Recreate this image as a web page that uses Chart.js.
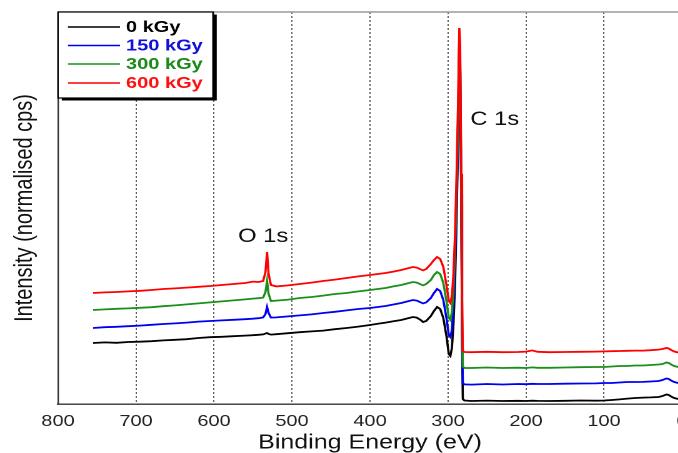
<!DOCTYPE html>
<html>
<head>
<meta charset="utf-8">
<title>XPS survey</title>
<script src="https://cdn.jsdelivr.net/npm/chart.js@4/dist/chart.umd.min.js"></script>
<style>
  html, body { margin: 0; padding: 0; background: #fff; }
  body { width: 678px; height: 453px; overflow: hidden; }
  /* the figure is a little wider than it is drawn, so stretch it sideways */
  #spectrum { transform: scaleX(1.25); transform-origin: 0 0; display: block; }
</style>
</head>
<body>
<canvas id="spectrum" width="560" height="453"></canvas>
<script>
// binding energy (eV), shared by every dose
var energy = [755, 740, 725, 710, 695, 680, 665, 650, 635, 620, 605, 590, 575, 560, 550, 543, 537, 534, 532, 530,
  527, 520, 505, 490, 475, 460, 445, 430, 415, 400, 390, 380, 370, 360, 350, 345, 340, 335, 332, 328,
  322, 318, 314, 310, 306, 302, 299, 297, 295, 293, 291, 289, 287, 285.5, 284.5, 283, 282, 281, 279, 270,
  250, 230, 210, 200, 192, 185, 170, 150, 130, 110, 100, 90, 80, 70, 60, 50, 40, 30, 25, 20,
  17, 14, 10, 5, 0];

// normalised counts, offset per dose
var gy0 = [61, 61.6, 61.2, 62, 62.3, 62.8, 63.6, 64.2, 64.8, 66, 66.8, 67.2, 67.8, 68.4, 68.8, 69.2, 69.6, 70.4, 71, 70,
  69.4, 69.8, 70.8, 71.8, 72.6, 73.4, 74.8, 76, 77.4, 79, 80.2, 81.4, 82.8, 84, 86, 87, 86.4, 84, 82, 83,
  88, 93, 97, 95, 86, 68, 50, 48, 56, 80, 120, 185, 270, 355, 340, 200, 60, 5, 3.5, 3,
  3.4, 3, 3.2, 3, 3.3, 3.1, 3, 3.2, 3.5, 3.3, 3.5, 4, 4.6, 5.4, 6, 6.4, 6.6, 7, 8, 9.5,
  9, 7.5, 6, 5, 4.5];

var gy150 = [76, 76.8, 77.2, 77.8, 78.4, 79.2, 80, 80.6, 81.4, 82.4, 83, 83.6, 84.2, 84.8, 85.3, 85.8, 86.6, 90, 97, 91,
  86.4, 86.6, 87.6, 88.6, 89.6, 91, 92.2, 93.6, 95, 96, 97, 98, 99.5, 101, 103, 104, 103.4, 101.6, 100.6, 101.6,
  106, 111, 115, 113, 104, 86, 69, 67, 74, 98, 138, 200, 280, 362, 345, 210, 75, 21, 19.6, 19.4,
  20, 19.5, 20, 19.8, 20.2, 20, 20, 20.3, 20.5, 20.6, 21, 21, 21.5, 22, 22, 22.1, 22.5, 23, 24, 25.5,
  25, 23.5, 22, 21, 20];

var gy300 = [94, 94.6, 95.2, 95.6, 96.2, 96.8, 97.8, 98.6, 99.6, 100.6, 101.6, 102.6, 103.6, 104.6, 105.4, 105.8, 106.4, 112, 123, 110,
  103, 103.4, 104.4, 106, 107, 108.4, 110, 111, 112.6, 114, 115, 116, 117.6, 119, 121, 122, 121.4, 119.6, 118.6, 120,
  124, 129, 132, 130, 121, 103, 86, 84, 92, 115, 155, 215, 290, 368, 350, 220, 90, 37.5, 36, 36,
  36.5, 36, 36.3, 36, 36.6, 36.2, 36.2, 36.5, 36.8, 37, 37, 37.5, 38, 38, 38.5, 38.5, 39, 39.5, 40, 41.5,
  41, 39.5, 38, 37, 36];

var gy600 = [111, 111.6, 112, 112.6, 113.2, 114, 115, 115.6, 116.4, 117.2, 118, 119, 120, 121, 122.4, 122, 123, 132, 152, 130,
  119, 117.6, 118.6, 120, 121.4, 123, 124.4, 126, 127.6, 129, 130, 131, 132.4, 134, 136, 137, 136.4, 134.6, 133.6, 135,
  140, 144, 147, 145, 137, 119, 103, 101, 108, 130, 170, 230, 305, 376, 360, 230, 105, 53, 52, 51.8,
  52.2, 51.8, 52, 52.4, 53.6, 52.2, 51.8, 52, 52.2, 52.4, 52.6, 52.8, 53, 53.2, 53.4, 53.4, 53.8, 54.4, 55, 56,
  55.5, 54, 52.5, 51.5, 51];

var seriesNames = ["0 kGy", "150 kGy", "300 kGy", "600 kGy"];
var lineColors = ["#000000", "#0000f0", "#1a8f1a", "#ff0000"];
var labelColors = ["#000000", "#1010d8", "#1a8a1a", "#ff1010"];
var energyTicks = [800, 700, 600, 500, 400, 300, 200, 100, 0];

// peak labels: [text, energy, intensity]
var peakLabels = [["O 1s", 537, 167], ["C 1s", 240, 284]];

var FONT = "'Liberation Sans', Arial, sans-serif";

function toPoints(values) {
  return energy.map(function (e, i) { return {x: e, y: values[i]}; });
}

var datasets = [gy0, gy150, gy300, gy600].map(function (values, i) {
  return {
    label: seriesNames[i],
    data: toPoints(values),
    borderColor: lineColors[i],
    borderWidth: 1.8,
    pointRadius: 0,
    tension: 0,
    fill: false,
    order: 3 - i   // highest dose drawn on top
  };
});

// framed legend box in the upper left corner, with a drop shadow
var legendBox = {
  id: "legendBox",
  afterDraw: function (chart) {
    var ctx = chart.ctx;
    var x = 46.4, y = 12, w = 124, h = 86;
    ctx.save();
    ctx.fillStyle = "#000";
    ctx.fillRect(x + 3, y + 2.5, w, h);
    ctx.fillStyle = "#fff";
    ctx.fillRect(x, y, w, h);
    ctx.strokeStyle = "#000";
    ctx.lineWidth = 1.2;
    ctx.strokeRect(x, y, w, h);
    var rows = [27, 45.5, 64, 83];
    ctx.font = "bold 16px " + FONT;
    ctx.textBaseline = "middle";
    ctx.textAlign = "left";
    rows.forEach(function (ry, i) {
      ctx.strokeStyle = lineColors[i];
      ctx.lineWidth = 1.4;
      ctx.beginPath();
      ctx.moveTo(54.4, ry);
      ctx.lineTo(96, ry);
      ctx.stroke();
      ctx.fillStyle = labelColors[i];
      ctx.fillText(seriesNames[i], 100.8, ry + 0.5);
    });
    ctx.restore();
  }
};

// grey top edge of the frame and the peak names
var frameAndPeaks = {
  id: "frameAndPeaks",
  afterDatasetsDraw: function (chart) {
    var ctx = chart.ctx, area = chart.chartArea;
    var xs = chart.scales.x, ys = chart.scales.y;
    ctx.save();
    ctx.strokeStyle = "#9a9a9a";
    ctx.lineWidth = 1.4;
    ctx.beginPath();
    ctx.moveTo(area.left, area.top);
    ctx.lineTo(area.right, area.top);
    ctx.stroke();
    ctx.fillStyle = "#111";
    ctx.font = "19px " + FONT;
    ctx.textAlign = "center";
    ctx.textBaseline = "middle";
    peakLabels.forEach(function (p) {
      ctx.fillText(p[0], xs.getPixelForValue(p[1]), ys.getPixelForValue(p[2]));
    });
    ctx.restore();
  }
};

new Chart(document.getElementById("spectrum"), {
  type: "line",
  data: {datasets: datasets},
  options: {
    responsive: false,
    devicePixelRatio: 2,
    animation: false,
    layout: {padding: {top: 12, right: 14.4, left: 0, bottom: 0}},
    plugins: {legend: {display: false}, tooltip: {enabled: false}},
    scales: {
      x: {
        type: "linear",
        reverse: true,
        min: 0,
        max: 800,
        afterFit: function (scale) { scale.height = 49; },
        afterBuildTicks: function (scale) {
          scale.ticks = energyTicks.map(function (v) { return {value: v}; });
        },
        grid: {color: "#3a3a3a", lineWidth: 0.8, drawTicks: false},
        border: {color: "#333", width: 1.4, dash: [2, 2]},
        ticks: {
          padding: 8,
          color: "#222",
          font: {family: FONT, size: 16},
          maxRotation: 0
        },
        title: {
          display: true,
          text: "Binding Energy (eV)",
          color: "#111",
          font: {family: FONT, size: 20, lineHeight: 1},
          padding: 0
        }
      },
      y: {
        min: 0,
        max: 392,
        afterFit: function (scale) { scale.width = 46.4; },
        grid: {display: false},
        border: {color: "#333", width: 1.2},
        ticks: {display: false},
        title: {
          display: true,
          text: "Intensity (normalised cps)",
          color: "#111",
          font: {family: FONT, size: 20},
          padding: {top: 8, bottom: 0}
        }
      }
    }
  },
  plugins: [frameAndPeaks, legendBox]
});
</script>
</body>
</html>
